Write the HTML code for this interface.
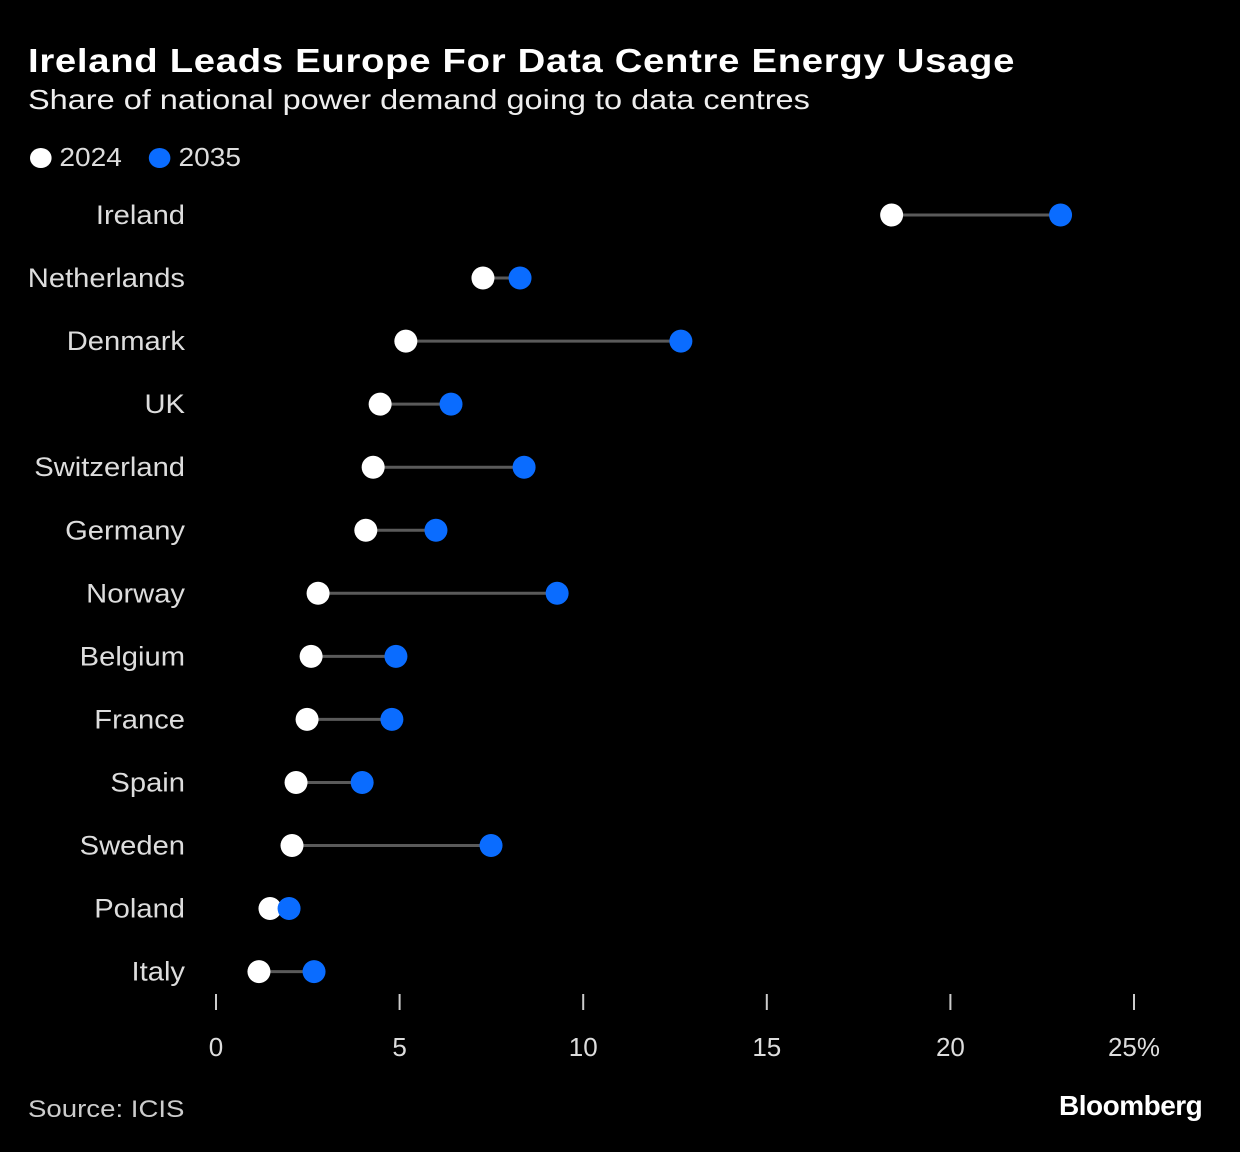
<!DOCTYPE html>
<html><head><meta charset="utf-8">
<style>
html,body{margin:0;padding:0;background:#000;}
body{width:1240px;height:1152px;position:relative;font-family:"Liberation Sans",sans-serif;color:#fff;overflow:hidden;}
.t{position:absolute;white-space:nowrap;transform-origin:0 0;}
</style></head>
<body>
<div class="t" style="left:28px;top:42px;font-size:33px;font-weight:bold;letter-spacing:0.6px;transform:scaleX(1.16);">Ireland Leads Europe For Data Centre Energy Usage</div>
<div class="t" style="left:28px;top:84px;font-size:28px;color:#eee;transform:scaleX(1.16);">Share of national power demand going to data centres</div>
<div class="t" style="left:30px;top:142px;font-size:26px;color:#ddd;transform:scaleX(1.08);">
<span><span style="display:inline-block;width:20px;height:20px;border-radius:50%;background:#fff;vertical-align:-2px;"></span> 2024</span>
<span style="margin-left:18px;"><span style="display:inline-block;width:20px;height:20px;border-radius:50%;background:#0a6cff;vertical-align:-2px;"></span> 2035</span>
</div>
<svg id="chart" width="1240" height="1152" style="position:absolute;left:0;top:0;"></svg>
<div class="t" style="left:28px;top:1096px;font-size:24px;color:#ccc;transform:scaleX(1.15);">Source: ICIS</div>
<div class="t" style="left:1059px;top:1090px;font-size:28px;font-weight:bold;letter-spacing:-0.5px;">Bloomberg</div>
<script>
const countries=["Ireland","Netherlands","Denmark","UK","Switzerland","Germany","Norway","Belgium","France","Spain","Sweden","Poland","Italy"];
const values2024=[18.4,7.27,5.17,4.47,4.28,4.08,2.78,2.59,2.48,2.18,2.07,1.47,1.17];
const values2035=[23.0,8.28,12.66,6.4,8.39,5.99,9.29,4.9,4.79,3.98,7.49,1.99,2.67];
const ticks=[0,5,10,15,20,25];
const tickLabels=["0","5","10","15","20","25%"];
const svg=document.getElementById('chart');
const NS="http://www.w3.org/2000/svg";
function x(v){return 216+v*(1134-216)/25;}
function y(i){return 215+i*63.05;}
function mk(tag,attrs){const e=document.createElementNS(NS,tag);for(const k in attrs)e.setAttribute(k,attrs[k]);svg.appendChild(e);return e;}
ticks.forEach((t,i)=>{
  const l=mk('line',{x1:x(t),x2:x(t),y1:994,y2:1010,stroke:'#ccc','stroke-width':2});
  
  
  const tx=mk('text',{x:x(t),y:1056,fill:'#ddd','font-size':26,'text-anchor':'middle','font-family':'Liberation Sans, sans-serif'});
  tx.textContent=tickLabels[i];
  
  
});
countries.forEach((c,i)=>{
  const lb=mk('text',{x:0,y:0,transform:'translate(185,'+(y(i)+9)+') scale(1.08,1)',fill:'#ddd','font-size':27,'text-anchor':'end','font-family':'Liberation Sans, sans-serif'});
  lb.textContent=c;
  
  
  const ln=mk('line',{x1:x(values2024[i]),x2:x(values2035[i]),y1:y(i),y2:y(i),stroke:'#5a5a5a','stroke-width':3});
  
  
  const d1=mk('circle',{cx:x(values2024[i]),cy:y(i),r:11.5,fill:'#fff'});
  
  
  const d2=mk('circle',{cx:x(values2035[i]),cy:y(i),r:11.5,fill:'#0a6cff'});
  
  
});
</script>
</body></html>
